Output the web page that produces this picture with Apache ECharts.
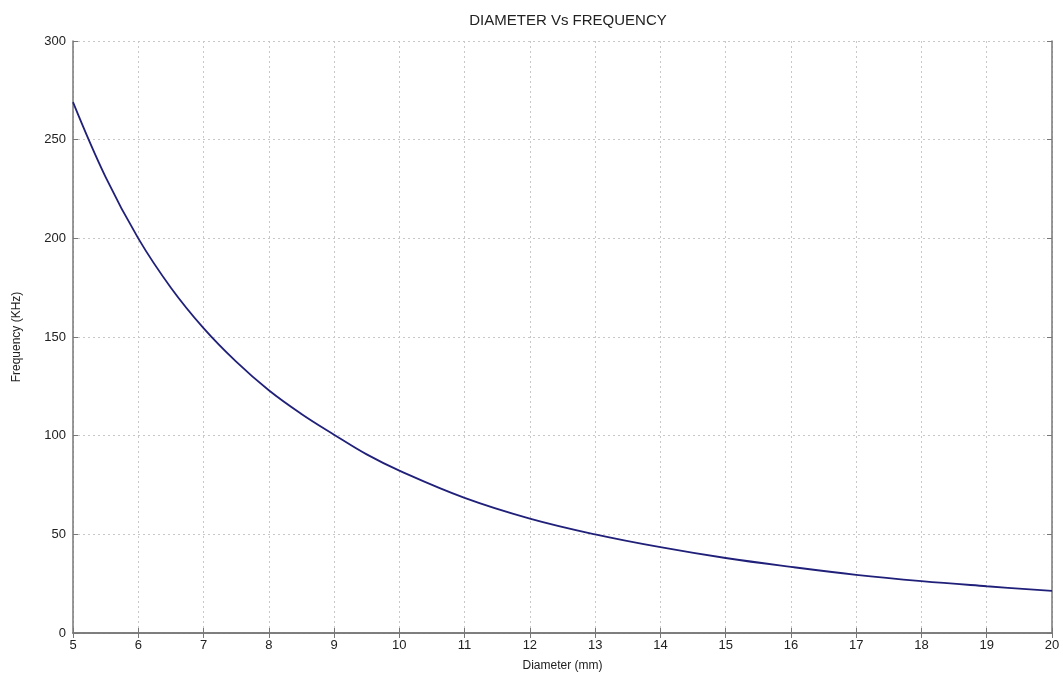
<!DOCTYPE html>
<html lang="en">
<head>
    <meta charset="UTF-8">
    <script src="https://cdn.jsdelivr.net/npm/echarts@6/dist/echarts.min.js"></script>
    <style>
        html, body { margin: 0; padding: 0; background: #fff; }
        #pic { width: 1063px; height: 677px; }
    </style>
    <title>DIAMETER Vs FREQUENCY</title>
</head>
<body>
<div id="pic"></div>
<script type="text/javascript">
    // diameter (mm) and frequency (KHz)
    var diameter = [5, 5.5, 6, 6.5, 7, 7.5, 8, 8.5, 9, 9.5, 10, 11, 12, 13, 14, 15, 16, 17, 18, 19, 20];
    var frequency = [269, 231, 200, 175, 154.5, 137.5, 123, 111, 100.5, 90.5, 82.3, 68.5, 58, 50, 43.5, 38, 33.5, 29.5, 26.3, 23.7, 21.3];

    var chartDom = document.getElementById('pic');
    var myChart = echarts.init(chartDom);

    var pts = [];
    for (var i = 0; i < diameter.length; i++) {
        pts.push([diameter[i], frequency[i]]);
    }

    var gridLine = { show: true, lineStyle: { color: '#c8c8c8', type: [2, 3], width: 1 } };
    var labelStyle = { color: '#222', fontSize: 13, fontFamily: 'Liberation Sans, Arial, sans-serif' };

    var option = {
        backgroundColor: '#fff',
        animation: false,
        title: {
            text: 'DIAMETER Vs FREQUENCY',
            left: 563,
            textAlign: 'center',
            top: 8,
            textStyle: { color: '#222', fontSize: 15, fontWeight: 'normal', fontFamily: 'Liberation Sans, Arial, sans-serif' }
        },
        grid: { left: 73, right: 11, top: 41, bottom: 40 },
        xAxis: [
            {
                type: 'value', min: 5, max: 20, interval: 1,
                name: 'Diameter (mm)', nameLocation: 'middle', nameGap: 27,
                nameTextStyle: { color: '#222', fontSize: 12, fontFamily: 'Liberation Sans, Arial, sans-serif' },
                axisLine: { lineStyle: { color: '#777', width: 1.5 } },
                axisTick: { inside: true, length: 5, lineStyle: { color: '#777' } },
                axisLabel: Object.assign({ margin: 6 }, labelStyle),
                splitLine: gridLine
            },
            {
                type: 'value', min: 5, max: 20, interval: 1, position: 'top',
                axisLine: { lineStyle: { color: '#777', width: 1.5 } },
                axisTick: { inside: true, length: 5, lineStyle: { color: '#777' } },
                axisLabel: { show: false },
                splitLine: { show: false }
            }
        ],
        yAxis: [
            {
                type: 'value', min: 0, max: 300, interval: 50,
                name: 'Frequency (KHz)', nameLocation: 'middle', nameGap: 50,
                nameTextStyle: { color: '#222', fontSize: 12, fontFamily: 'Liberation Sans, Arial, sans-serif' },
                axisLine: { show: true, lineStyle: { color: '#777', width: 1.5 } },
                axisTick: { show: true, inside: true, length: 5, lineStyle: { color: '#777' } },
                axisLabel: Object.assign({ margin: 7 }, labelStyle),
                splitLine: gridLine
            },
            {
                type: 'value', min: 0, max: 300, interval: 50, position: 'right',
                axisLine: { show: true, lineStyle: { color: '#777', width: 1.5 } },
                axisTick: { show: true, inside: true, length: 5, lineStyle: { color: '#777' } },
                axisLabel: { show: false },
                splitLine: { show: false }
            }
        ],
        series: [
            {
                type: 'line',
                data: pts,
                smooth: 0.4,
                showSymbol: false,
                lineStyle: { color: '#20207a', width: 1.8 }
            }
        ]
    };

    option && myChart.setOption(option);
</script>
</body>
</html>
